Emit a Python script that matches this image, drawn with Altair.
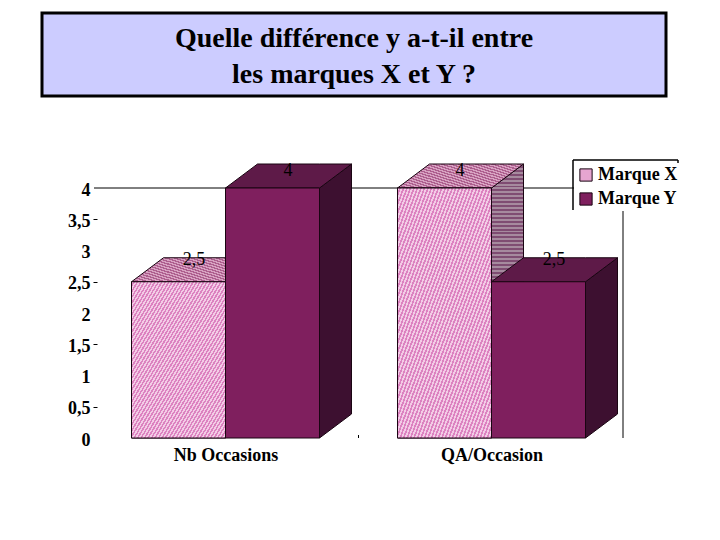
import altair as alt
import pandas as pd

categories = ["Nb Occasions", "QA/Occasion"]
series = ["Marque X", "Marque Y"]
values = {"Marque X": [2.5, 4], "Marque Y": [4, 2.5]}
label_heights = {"Marque X": [2.85, 4.27], "Marque Y": [4.27, 2.85]}
y_ticks = [0, 0.5, 1, 1.5, 2, 2.5, 3, 3.5, 4]
title_lines = ["Quelle différence y a-t-il entre", "les marques X et Y ?"]
front_colors = ["#E6A5D0", "#7F1F5E"]
top_colors = ["#C07FA5", "#5E1A48"]
side_colors = ["#96668A", "#3D1030"]
dither_front = ["#F3CBE6", "#DC82C0"]
dither_top = ["#D8A2C2", "#AD5E8E"]
dither_side = ["#A68A9E", "#7F4C72"]

FONT = "Liberation Serif"
PX_X = 266.0
PX_Y = 62.5
BAR_W = 94 / PX_X
DEPTH_X = 32 / PX_X
DEPTH_Y = 24 / PX_Y


def dither(colors, cycles, x2=1):
    stops = []
    for i in range(cycles):
        a, b, c = i / cycles, (i + 0.5) / cycles, (i + 1) / cycles
        stops += [alt.GradientStop(offset=a, color=colors[0]),
                  alt.GradientStop(offset=b, color=colors[0]),
                  alt.GradientStop(offset=b, color=colors[1]),
                  alt.GradientStop(offset=c, color=colors[1])]
    return alt.LinearGradient(gradient="linear", x1=0, y1=0, x2=x2, y2=1, stops=stops)


fronts, sides, tops = [], [], []
for gi, cat in enumerate(categories):
    for si, s in enumerate(series):
        v = values[s][gi]
        x0 = gi + (si - 1) * BAR_W
        x1 = x0 + BAR_W
        bar = f"{gi}-{si}"
        fronts.append(dict(series=s, cat=cat, x0=x0, x1=x1, v=v, base=0,
                           label=str(v).replace(".", ",").replace(",0", ""),
                           cx=(x0 + x1) / 2, ly=label_heights[s][gi]))
        sides += [dict(series=s, bar=bar, x=x1, up=v, low=0),
                  dict(series=s, bar=bar, x=x1 + DEPTH_X, up=v + DEPTH_Y, low=DEPTH_Y)]
        tops += [dict(series=s, bar=bar, x=x0, up=v, low=v),
                 dict(series=s, bar=bar, x=x0 + DEPTH_X, up=v + DEPTH_Y, low=v),
                 dict(series=s, bar=bar, x=x1, up=v + DEPTH_Y, low=v),
                 dict(series=s, bar=bar, x=x1 + DEPTH_X, up=v + DEPTH_Y, low=v + DEPTH_Y)]
fronts = pd.DataFrame(fronts)
sides = pd.DataFrame(sides)
tops = pd.DataFrame(tops)

W, H = 526, 274
xs = alt.Scale(domain=[-128.5 / PX_X, 397.5 / PX_X], nice=False, zero=False)
ys = alt.Scale(domain=[0, H / PX_Y], nice=False, zero=False)

x_axis = alt.Axis(values=[0, 1], title=None, domain=False, ticks=False, grid=False,
                  labelExpr="datum.value == 0 ? '%s' : '%s'" % tuple(categories),
                  labelFont=FONT, labelFontWeight="bold", labelFontSize=18, labelColor="black",
                  labelPadding=8, labelFlush=False, labelOverlap=False)
y_axis = alt.Axis(values=y_ticks, title=None, domain=False, grid=False, format="~g",
                  tickSize=4, tickColor={"condition": {"test": "datum.value % 1 != 0", "value": "black"},
                                         "value": "transparent"},
                  labelExpr="replace(datum.label, '.', ',')",
                  labelFont=FONT, labelFontWeight="bold", labelFontSize=18, labelColor="black",
                  labelPadding=3, labelOffset=2, labelAlign="right", labelBaseline="middle")

one = pd.DataFrame({"k": [0]})
box = alt.Chart(one).mark_rect(fill="#CCCCFF", stroke="black", strokeWidth=3).encode(
    x=alt.value(-55), x2=alt.value(569), y=alt.value(-151), y2=alt.value(-68))
title1 = alt.Chart(pd.DataFrame({"t": [title_lines[0]]})).mark_text(
    font=FONT, fontWeight="bold", fontSize=28, color="black", align="center", baseline="alphabetic").encode(
    x=alt.value(257), y=alt.value(-117), text="t:N")
title2 = alt.Chart(pd.DataFrame({"t": [title_lines[1]]})).mark_text(
    font=FONT, fontWeight="bold", fontSize=28, color="black", align="center", baseline="alphabetic").encode(
    x=alt.value(257), y=alt.value(-81), text="t:N")
grid4 = alt.Chart(pd.DataFrame({"v": [4]})).mark_rule(color="black", strokeWidth=1).encode(
    x=alt.value(-3), x2=alt.value(W), y=alt.Y("v:Q", scale=ys, axis=y_axis))
right_line = alt.Chart(one).mark_rule(color="black", strokeWidth=1).encode(
    x=alt.value(W), y=alt.value(0), y2=alt.value(H))
mid_tick = alt.Chart(pd.DataFrame({"x": [0.5]})).mark_rule(color="black", strokeWidth=1).encode(
    x=alt.X("x:Q", scale=xs, axis=x_axis), y=alt.value(H - 3), y2=alt.value(H))
frame = alt.Chart(pd.DataFrame({"a": [476, 476, 581], "b": [-4, -4, -4],
                                "c": [476, 581, 581], "d": [46, -4, 46]})).mark_rule(
    color="black", strokeWidth=1.5).encode(
    x=alt.X("a:Q", scale=None), x2="c:Q", y=alt.Y("b:Q", scale=None), y2="d:Q")

layers = [box, title1, title2, grid4, right_line, mid_tick, frame]
for frame_df, colors, x_fill in ((sides, side_colors, dither(dither_side, 70, 0)),
                                 (tops, top_colors, dither(dither_top, 30))):
    for s, col in zip(series, colors):
        fill = x_fill if s == series[0] else col
        layers.append(
            alt.Chart(frame_df[frame_df.series == s]).mark_area(
                fill=fill, stroke="#1a0512", strokeWidth=1, opacity=1, interpolate="linear").encode(
                x=alt.X("x:Q", scale=xs, axis=x_axis),
                y=alt.Y("up:Q", scale=ys, axis=y_axis),
                y2="low:Q",
                detail="bar:N"))

front = alt.Chart(fronts).mark_rect(stroke="#1a0512", strokeWidth=1).encode(
    x=alt.X("x0:Q", scale=xs, axis=x_axis),
    x2="x1:Q",
    y=alt.Y("v:Q", scale=ys, axis=y_axis),
    y2="base:Q",
    fill=alt.Fill("series:N", scale=alt.Scale(domain=series, range=front_colors),
                  legend=alt.Legend(title=None, orient="none", legendX=477, legendY=-1,
                                    symbolType="square", symbolSize=150, symbolStrokeColor="#1a0512",
                                    symbolStrokeWidth=1, symbolOpacity=1, labelOffset=3,
                                    labelFont=FONT, labelFontWeight="bold", labelFontSize=18,
                                    labelColor="black", labelLimit=120, rowPadding=6,
                                    fillColor="white", padding=3)))
front_x = alt.Chart(fronts[fronts.series == series[0]]).mark_rect(
    fill=dither(dither_front, 54), stroke="#1a0512", strokeWidth=1).encode(
    x=alt.X("x0:Q", scale=xs, axis=x_axis),
    x2="x1:Q",
    y=alt.Y("v:Q", scale=ys, axis=y_axis),
    y2="base:Q")
labels = alt.Chart(fronts).mark_text(font=FONT, fontSize=18, color="black", dx=15.5).encode(
    x=alt.X("cx:Q", scale=xs, axis=x_axis),
    y=alt.Y("ly:Q", scale=ys, axis=y_axis),
    text="label:N")
layers += [front, front_x, labels]

chart = alt.layer(*layers).properties(
    width=W, height=H,
    padding={"left": 89, "top": 156, "right": 89, "bottom": 94},
    autosize=alt.AutoSizeParams(type="none"),
).configure_view(stroke=None)

chart.save("out.html", embed_options={"renderer": "svg", "actions": False})
